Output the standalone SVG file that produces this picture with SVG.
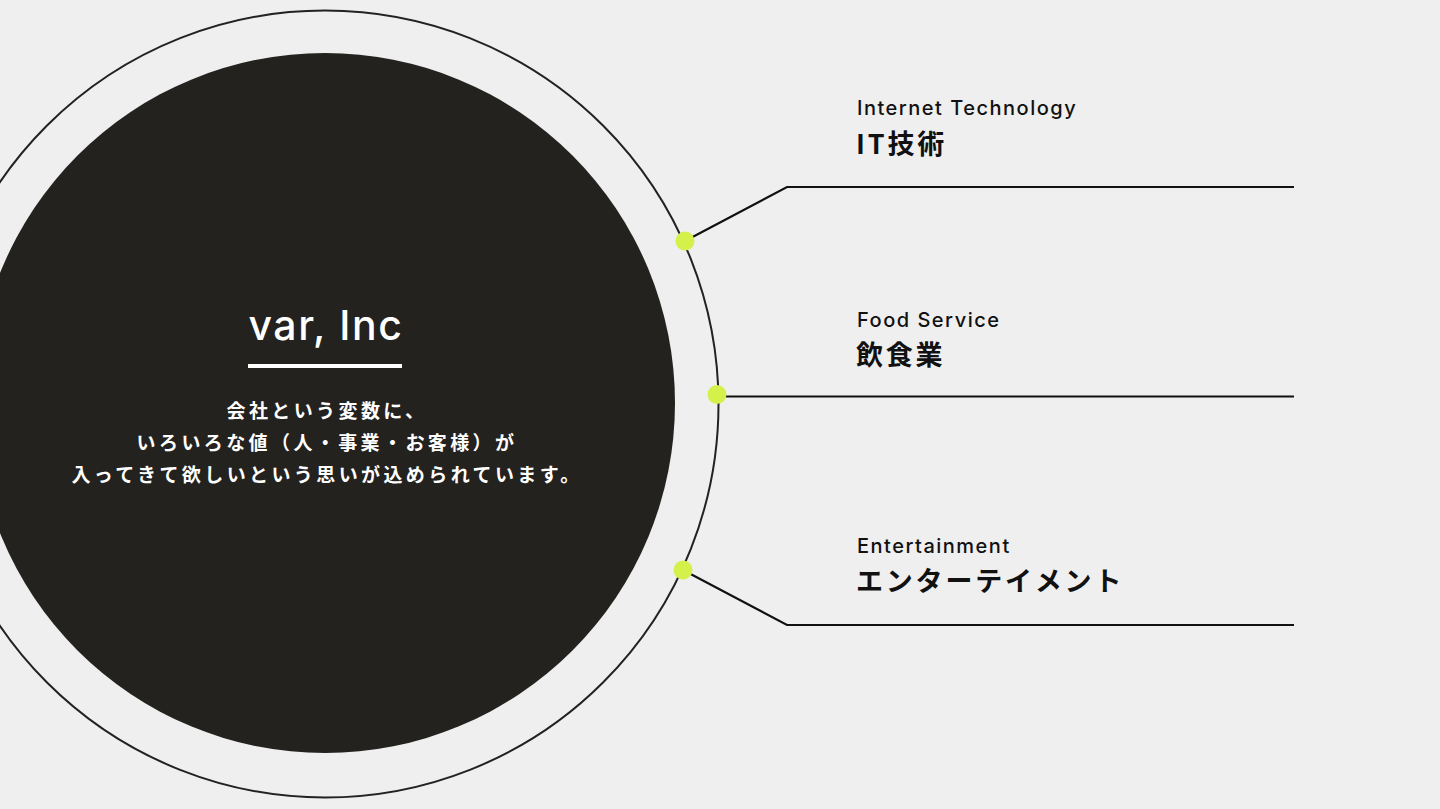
<svg xmlns="http://www.w3.org/2000/svg" width="1440" height="809" viewBox="0 0 1440 809">
<style>
.en{font-family:Inter,"Noto Sans","Noto Sans CJK JP",sans-serif;font-size:20px;font-weight:500;fill:#111;letter-spacing:1.5px}
.jp{font-family:"Noto Sans CJK JP",sans-serif;font-size:27px;font-weight:700;fill:#111;letter-spacing:2.8px}
.desc{font-family:"Noto Sans CJK JP",sans-serif;font-size:19px;font-weight:700;fill:#fff;text-anchor:middle;letter-spacing:3.4px}
.conn{fill:none;stroke:#111;stroke-width:2.2}
.dot{fill:#d4f04a}
</style>
<rect width="1440" height="809" fill="#efefef"/>
<g id="outer-ring"><circle cx="325" cy="404" r="393.5" fill="none" stroke="#222" stroke-width="2"/></g>
<g id="company">
<circle cx="325" cy="403" r="350" fill="#23221f"/>
<text x="326" y="340" text-anchor="middle" font-family="Inter,'Noto Sans',sans-serif" font-size="41" font-weight="500" fill="#fff" letter-spacing="1.6">var, Inc</text>
<rect x="248" y="364" width="154" height="4" fill="#fff"/>
<text class="desc" x="327" y="418">会社という変数に、</text>
<text class="desc" x="327" y="450">いろいろな値（人・事業・お客様）が</text>
<text class="desc" x="327" y="482">入ってきて欲しいという思いが込められています。</text>
</g>
<g id="connectors">
<polyline class="conn" points="685,241 787,187 1294,187"/>
<polyline class="conn" points="717,396.5 1294,396.5"/>
<polyline class="conn" points="683,570 787,625 1294,625"/>
</g>
<g id="dots">
<circle class="dot" cx="685" cy="241" r="9.5"/>
<circle class="dot" cx="717" cy="394.5" r="9.5"/>
<circle class="dot" cx="683" cy="570" r="9.5"/>
</g>
<g id="it">
<text class="en" x="857" y="115">Internet Technology</text>
<text class="jp" x="856" y="154">IT技術</text>
</g>
<g id="food">
<text class="en" x="857" y="327">Food Service</text>
<text class="jp" x="856" y="365">飲食業</text>
</g>
<g id="ent">
<text class="en" x="857" y="553">Entertainment</text>
<text class="jp" x="856" y="591">エンターテイメント</text>
</g>
</svg>
